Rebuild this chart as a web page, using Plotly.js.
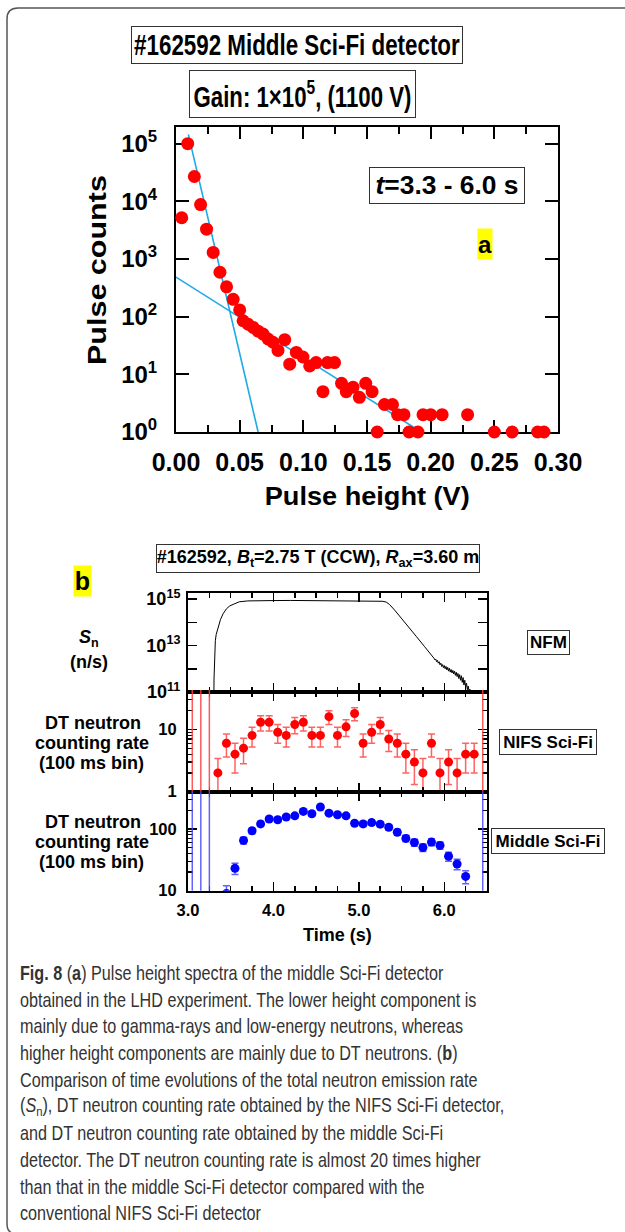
<!DOCTYPE html>
<html><head><meta charset="utf-8">
<script src="https://cdn.plot.ly/plotly-3.0.1.min.js"></script>
<style>html,body{margin:0;padding:0;background:#fff}#chart{width:625px;height:1232px}</style>
</head><body><div id="chart"></div>
<script>
// ---------- Panel a: pulse height spectrum ----------
const pulseHeightV = [0.0045,0.0092,0.0144,0.0193,0.024,0.0292,0.0345,0.0397,0.0449,0.050,
  0.0527,0.0567,0.0606,0.0645,0.0684,0.0723,0.0762,0.0801,0.0854,0.0893,
  0.0945,0.0997,0.105,0.110,0.1154,0.119,0.1245,0.130,0.1337,0.139,
  0.144,0.149,0.154,0.158,0.1637,0.170,0.174,0.179,0.183,0.190,
  0.194,0.200,0.209,0.229,0.250,0.264,0.284,0.289];
const pulseCounts = [5200,100000,27000,8800,3300,1300,590,330,200,131,
  85,74,65,56,50,41,36,26,40,15,
  24,20,14,16,5,16,16,7,5,6,
  4,7,5,1,3,3,2,2,1,1,
  2,2,2,2,1,1,1,1];
const fitGammaX = [0.0097, 0.0645];
const fitGammaY = [145000, 1];
const fitDTX = [0.0, 0.191];
const fitDTY = [486, 1.05];
const yTickValsA = [1, 10, 100, 1000, 10000, 100000];
const yTickTextA = ['10<sup>0</sup>','10<sup>1</sup>','10<sup>2</sup>','10<sup>3</sup>','10<sup>4</sup>','10<sup>5</sup>'];

// ---------- Panel b: time evolutions ----------
const nfmTime = [3.00,3.30,3.305,3.31,3.315,3.32,3.33,3.35,3.38,3.41,3.45,3.49,3.55,3.60,3.70,3.80,3.90,4.00,4.20,4.40,4.60,4.80,5.00,5.10,5.20,5.28,5.32,5.36,5.42,5.48,5.58,5.675,5.77,5.87,
  5.88,5.89,5.90,5.91,5.92,5.93,5.94,5.95,5.96,5.97,5.98,5.99,6.00,6.01,6.02,6.03,6.04,6.05,6.06,6.07,6.08,6.09,6.10,6.11,6.12,6.13,6.14,6.15,6.16,6.17,6.18,6.19,6.20,6.21,6.22,6.23,6.24,6.25,6.26,6.27,6.28,6.29,6.30,6.31,6.32,6.33];
const nfmRate = [1e10,1e10,4e11,2.5e12,8e12,1.6e13,3e13,6e13,1.3e14,2.3e14,3.8e14,5.1e14,6.6e14,7.6e14,8.3e14,8.6e14,8.7e14,8.6e14,8.7e14,8.5e14,8.6e14,8.4e14,8.3e14,8.2e14,8.1e14,8.0e14,7.4e14,5.8e14,3.3e14,1.8e14,6.9e13,2.4e13,8.9e12,3.3e12,
  2.82e12,2.40e12,2.63e12,2.00e12,2.29e12,1.74e12,2.00e12,1.48e12,1.74e12,1.26e12,1.51e12,1.12e12,1.38e12,1.00e12,1.26e12,8.9e11,1.15e12,7.9e11,1.05e12,7.2e11,9.3e11,6.6e11,8.5e11,6.0e11,7.9e11,5.2e11,7.1e11,4.6e11,6.3e11,3.8e11,5.6e11,3.2e11,5.0e11,2.6e11,4.2e11,2.0e11,3.2e11,1.6e11,2.4e11,1.26e11,1.8e11,1.05e11,1.32e11,8.9e10,1.05e11,6.3e10];
const nifsTime = [3.35,3.45,3.55,3.65,3.75,3.85,3.95,4.05,4.15,4.25,4.35,4.45,4.55,4.65,4.75,4.85,4.95,5.05,5.15,5.25,5.35,5.45,5.55,5.65,5.75,5.85,5.95,6.05,6.15,6.25,6.35];
const nifsRate = [2,6,4,5,8,13,13,9,8,12,13,8,8,16,8,11,18,6,9,12,7,6,4,3,2,6,2,3,2,4,4];
const nifsErr  = [1.4,2.4,2.0,2.2,2.8,3.6,3.6,3.0,2.8,3.5,3.6,2.8,2.8,4.0,2.8,3.3,4.2,2.4,3.0,3.5,2.6,2.4,2.0,1.7,1.4,2.4,1.4,1.7,1.4,2.0,2.0];
const midTime = [3.45,3.55,3.65,3.75,3.85,3.95,4.05,4.15,4.25,4.35,4.45,4.55,4.65,4.75,4.85,4.95,5.05,5.15,5.25,5.35,5.45,5.55,5.65,5.75,5.85,5.95,6.05,6.15,6.25];
const midRate = [9,23,65,93,120,144,140,155,162,191,175,225,179,169,162,123,120,126,119,106,88,70,60,50,61,54,36,27,17];
const midErr  = [3.0,4.8,8.1,9.6,11.0,12.0,11.8,12.4,12.7,13.8,13.2,15.0,13.4,13.0,12.7,11.1,11.0,11.2,10.9,10.3,9.4,8.4,7.7,7.1,7.8,7.3,6.0,5.2,4.1];
const zeroBinTimes = [3.05, 3.15, 3.25, 6.45];
const nfmTickVals = [1e11, 1e12, 1e13, 1e14, 1e15];
const nfmTickText = ['10<sup>11</sup>','','10<sup>13</sup>','','10<sup>15</sup>'];

const captionLines = [
  '<b>Fig. 8</b> (<b>a</b>) Pulse height spectra of the middle Sci-Fi detector',
  'obtained in the LHD experiment. The lower height component is',
  'mainly due to gamma-rays and low-energy neutrons, whereas',
  'higher height components are mainly due to DT neutrons. (<b>b</b>)',
  'Comparison of time evolutions of the total neutron emission rate',
  '(<i>S</i><sub>n</sub>), DT neutron counting rate obtained by the NIFS Sci-Fi detector,',
  'and DT neutron counting rate obtained by the middle Sci-Fi',
  'detector. The DT neutron counting rate is almost 20 times higher',
  'than that in the middle Sci-Fi detector compared with the',
  'conventional NIFS Sci-Fi detector'
];

// ---------- layout helpers ----------
const W = 625, H = 1232;
const px = v => v / W, py = v => 1 - v / H;
const F = 'Liberation Sans, Arial, Helvetica, sans-serif';
const fitColor = 'rgb(30,170,230)';

const traces = [
  {x: fitGammaX, y: fitGammaY, mode: 'lines', line: {color: fitColor, width: 1.6}, xaxis: 'x', yaxis: 'y', hoverinfo: 'skip'},
  {x: fitDTX, y: fitDTY, mode: 'lines', line: {color: fitColor, width: 1.6}, xaxis: 'x', yaxis: 'y', hoverinfo: 'skip'},
  {x: pulseHeightV, y: pulseCounts, mode: 'markers', marker: {color: '#ff0000', size: 13}, cliponaxis: false, xaxis: 'x', yaxis: 'y'},
  {x: nfmTime, y: nfmRate, mode: 'lines', line: {color: '#000', width: 1}, xaxis: 'x2', yaxis: 'y2'},
  {x: nifsTime, y: nifsRate, mode: 'markers', marker: {color: '#ff0000', size: 9},
   error_y: {type: 'data', array: nifsErr, color: 'rgba(255,70,70,0.85)', thickness: 1.5, width: 3.5},
   xaxis: 'x3', yaxis: 'y3'},
  {x: midTime, y: midRate, mode: 'markers', marker: {color: '#0000ff', size: 9},
   error_y: {type: 'data', array: midErr, color: 'rgba(70,70,255,0.85)', thickness: 1.5, width: 3.5},
   xaxis: 'x4', yaxis: 'y4'}
];

const tickFontA = {family: F, size: 24, weight: 'bold', color: '#000'};
const tickFontB = {family: F, size: 16.5, weight: 'bold', color: '#000'};
const baseAx = {showline: true, linecolor: '#000', mirror: 'ticks', showgrid: false, zeroline: false, ticks: 'inside', tickcolor: '#000', fixedrange: true};

const xB = (anchor, labels) => Object.assign({}, baseAx, {
  domain: [px(188), px(487)], range: [3.0, 6.5], anchor: anchor, linewidth: 2,
  tickmode: 'linear', tick0: 3, dtick: 1, tickformat: '.1f', ticklen: 9, tickwidth: 1.5,
  minor: {tick0: 3, dtick: 0.25, ticks: 'inside', ticklen: 5, tickwidth: 1.5, tickcolor: '#000'},
  showticklabels: labels, tickfont: tickFontB, ticklabelstandoff: 3
});

const layout = {
  width: W, height: H, margin: {l: 0, r: 0, t: 0, b: 0},
  paper_bgcolor: '#fff', plot_bgcolor: '#fff', showlegend: false,
  font: {family: F, color: '#000'},
  xaxis: Object.assign({}, baseAx, {
    domain: [px(176), px(558)], range: [0, 0.30], anchor: 'y', linewidth: 2, layer: 'below traces',
    tickmode: 'linear', tick0: 0, dtick: 0.05, tickformat: '.2f', ticklen: 12, tickwidth: 2,
    minor: {tick0: 0, dtick: 0.025, ticks: 'inside', ticklen: 7, tickwidth: 2, tickcolor: '#000'},
    tickfont: {family: F, size: 25, weight: 'bold', color: '#000'}, ticklabelstandoff: 7
  }),
  yaxis: Object.assign({}, baseAx, {
    domain: [py(432), py(127)], type: 'log', range: [0, 5.29], anchor: 'x', linewidth: 2, layer: 'below traces',
    tickmode: 'array', tickvals: yTickValsA, ticktext: yTickTextA, ticklen: 13, tickwidth: 2,
    tickfont: tickFontA, ticklabelstandoff: 12
  }),
  xaxis2: xB('y2', false),
  yaxis2: Object.assign({}, baseAx, {
    domain: [py(692), py(593)], type: 'log', range: [11, 15.26], anchor: 'x2', linewidth: 2,
    tickmode: 'array', tickvals: nfmTickVals, ticktext: nfmTickText, ticklen: 9, tickwidth: 1.5,
    tickfont: {family: F, size: 18, weight: 'bold', color: '#000'}, ticklabelstandoff: 2
  }),
  xaxis3: xB('y3', false),
  yaxis3: Object.assign({}, baseAx, {
    domain: [py(791.7), py(692)], type: 'log', range: [0, 1.6], anchor: 'x3', linewidth: 2,
    tickmode: 'linear', tick0: 0, dtick: 1, ticklen: 9, tickwidth: 1.5,
    minor: {dtick: 'D1', ticks: 'inside', ticklen: 5, tickwidth: 1.2, tickcolor: '#000'},
    tickfont: tickFontB, ticklabelstandoff: 6
  }),
  xaxis4: xB('y4', true),
  yaxis4: Object.assign({}, baseAx, {
    domain: [py(890.7), py(791.7)], type: 'log', range: [1, 2.6], anchor: 'x4', linewidth: 2,
    tickmode: 'linear', tick0: 0, dtick: 1, ticklen: 9, tickwidth: 1.5,
    minor: {dtick: 'D1', ticks: 'inside', ticklen: 5, tickwidth: 1.2, tickcolor: '#000'},
    tickfont: tickFontB, ticklabelstandoff: 6
  }),
  shapes: [],
  annotations: []
};

// zero-count bins: error bars that span the whole panel
zeroBinTimes.forEach(t => {
  layout.shapes.push({type: 'line', xref: 'x3', yref: 'y3 domain', x0: t, x1: t, y0: 0, y1: 1.02,
    line: {color: 'rgba(255,60,60,0.85)', width: 1.5}});
  layout.shapes.push({type: 'line', xref: 'x4', yref: 'y4 domain', x0: t, x1: t, y0: 0, y1: 1,
    line: {color: 'rgba(70,70,255,0.85)', width: 1.5}});
});
// outer rounded frame
layout.shapes.push({type: 'path', xref: 'paper', yref: 'paper', layer: 'below',
  path: `M ${px(640)} ${py(8)} L ${px(18)} ${py(8)} Q ${px(7)} ${py(8)} ${px(7)} ${py(19)} L ${px(7)} ${py(1224)} Q ${px(7)} ${py(1232)} ${px(14)} ${py(1234)}`,
  line: {color: '#555', width: 1.5}});

const fit = []; // per-annotation horizontal fitting: {tw: target width px} or {sx: scale}
function ann(text, cx, cy, o) {
  o = o || {};
  const a = {text: text, x: px(cx), y: py(cy), xref: 'paper', yref: 'paper', showarrow: false,
    xanchor: o.xanchor || 'center', yanchor: 'middle',
    font: {family: F, size: o.size || 18, weight: o.weight || 'bold', color: o.color || '#000'}};
  if (o.w) { a.width = o.w; a.height = o.h; a.borderpad = 0; }
  if (o.border) { a.bordercolor = '#333'; a.borderwidth = 1; }
  if (o.bg) a.bgcolor = o.bg;
  if (o.angle) a.textangle = o.angle;
  if (o.align) a.align = o.align;
  fit.push(o.tw ? {tw: o.tw} : (o.sx ? {sx: o.sx, left: o.align === 'left'} : null));
  layout.annotations.push(a);
}

// panel a texts
ann('#162592 Middle Sci-Fi detector', 296.5, 44.5, {size: 30, w: 330, h: 36, border: true, tw: 326});
ann('Gain: 1×10<sup>5</sup>, (1100 V)', 302, 94.5, {size: 30, w: 225, h: 46, border: true, tw: 218});
ann('<i>t</i>=3.3 - 6.0 s', 446.5, 185, {size: 25, w: 154, h: 35, border: true, tw: 143});
ann('a', 485, 244, {size: 24, w: 14, h: 30, bg: '#ffff00'});
ann('Pulse counts', 97, 270, {size: 26, angle: -90, tw: 190});
ann('Pulse height (V)', 367, 496, {size: 26, tw: 205});

// panel b texts
ann('#162592, <i>B</i><sub>t</sub>=2.75 T (CCW), <i>R</i><sub>ax</sub>=3.60 m', 317.5, 559, {size: 18, w: 322, h: 27, border: true});
ann('b', 82.5, 581, {size: 25, w: 17, h: 30, bg: '#ffff00'});
ann('<i>S</i><sub>n</sub>', 89, 638, {size: 18});
ann('(n/s)', 89, 662, {size: 18});
ann('DT neutron', 93, 723, {size: 18});
ann('counting rate', 92, 743, {size: 18});
ann('(100 ms bin)', 91, 763, {size: 18});
ann('DT neutron', 93, 822, {size: 18});
ann('counting rate', 92, 842, {size: 18});
ann('(100 ms bin)', 91, 862, {size: 18});
ann('NFM', 548, 642, {size: 17, w: 41, h: 23, border: true});
ann('NIFS Sci-Fi', 547.5, 741.5, {size: 17, w: 96, h: 24, border: true});
ann('Middle Sci-Fi', 547.5, 840.5, {size: 17, w: 112, h: 24, border: true});
ann('Time (s)', 338, 935, {size: 18});

// caption (one annotation per printed line)
captionLines.forEach((line, i) => {
  ann(line, 18, 973 + i * 26.7, {size: 19.5, weight: 'normal', color: '#333', xanchor: 'left', align: 'left', sx: 0.83});
});

Plotly.newPlot('chart', traces, layout, {staticPlot: true, displayModeBar: false}).then(gd => {
  // horizontally condense/expand selected texts to the reference's letter widths
  gd.querySelectorAll('.annotation').forEach(g => {
    const i = +g.getAttribute('data-index');
    const spec = fit[i];
    if (!spec) return;
    const t = g.querySelector('.annotation-text');
    if (!t) return;
    t.removeAttribute('clip-path');
    t.style.clipPath = 'none';
    const bb = t.getBBox();
    if (!bb.width) return;
    const s = spec.tw ? spec.tw / bb.width : spec.sx;
    const cx = spec.left ? bb.x : bb.x + bb.width / 2;
    const prev = t.getAttribute('transform') || '';
    t.setAttribute('transform', (prev + ` translate(${(cx * (1 - s)).toFixed(2)},0) scale(${s.toFixed(4)},1)`).trim());
  });
});
</script>
</body></html>
